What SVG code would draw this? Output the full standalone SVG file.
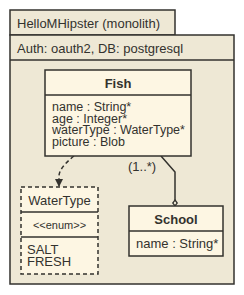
<svg xmlns="http://www.w3.org/2000/svg" width="244" height="295" viewBox="0 0 244 295">
<defs>
<style>
.pkg{fill:#eee8d5;stroke:#33322e;stroke-width:1.5}
.cls{fill:#fdf6e3;stroke:#33322e;stroke-width:1.5}
.dash{stroke-dasharray:4 3}
.ln{stroke:#33322e;stroke-width:1.5;fill:none}
text{font-family:"Liberation Sans",Arial,Helvetica,sans-serif;font-size:13px;fill:#33322e}
.b{font-weight:bold}
.m{text-anchor:middle}
.s{font-size:11px}
.a{font-size:12.5px}
</style>
<marker id="arr" viewBox="0 0 8 8" refX="7" refY="4" markerWidth="8" markerHeight="8" markerUnits="userSpaceOnUse" orient="auto">
<path d="M0,0 L8,4 L0,8 Z" fill="#33322e"/>
</marker>
</defs>
<g id="package">
<rect class="pkg" x="10" y="10" width="165" height="25"/>
<rect class="pkg" x="10" y="35" width="224" height="249"/>
<line class="ln" x1="10" y1="60" x2="234" y2="60"/>
<text x="17" y="28">HelloMHipster (monolith)</text>
<text x="17" y="53">Auth: oauth2, DB: postgresql</text>
</g>
<g id="connectors">
<path class="ln dash" d="M74,156 Q59,168 59,176 L59,186" marker-end="url(#arr)"/>
<path class="ln" d="M161,156 L175,172 L175,200"/>
<path d="M175,200 L177.2,203 L175,206 L172.8,203 Z" fill="#fdf6e3" stroke="#33322e" stroke-width="1.3"/>
<text x="128" y="171">(1..*)</text>
</g>
<g id="Fish">
<rect class="cls" x="45" y="70" width="146" height="86"/>
<line class="ln" x1="45" y1="95" x2="191" y2="95"/>
<text class="b m" x="118" y="88">Fish</text>
<text class="a" x="52" y="111">name : String*</text>
<text class="a" x="52" y="122.5">age : Integer*</text>
<text class="a" x="52" y="134">waterType : WaterType*</text>
<text class="a" x="52" y="145.5">picture : Blob</text>
</g>
<g id="WaterType">
<rect class="cls dash" x="21" y="187" width="77" height="87"/>
<line class="ln" x1="21" y1="212" x2="98" y2="212"/>
<line class="ln" x1="21" y1="237" x2="98" y2="237"/>
<text class="m" x="59.5" y="205">WaterType</text>
<text class="m s" x="59.5" y="229">&lt;&lt;enum&gt;&gt;</text>
<text x="27" y="254">SALT</text>
<text x="27" y="266">FRESH</text>
</g>
<g id="School">
<rect class="cls" x="129" y="206" width="94" height="50"/>
<line class="ln" x1="129" y1="231" x2="223" y2="231"/>
<text class="b m" x="176" y="224">School</text>
<text x="136" y="248">name : String*</text>
</g>
</svg>
